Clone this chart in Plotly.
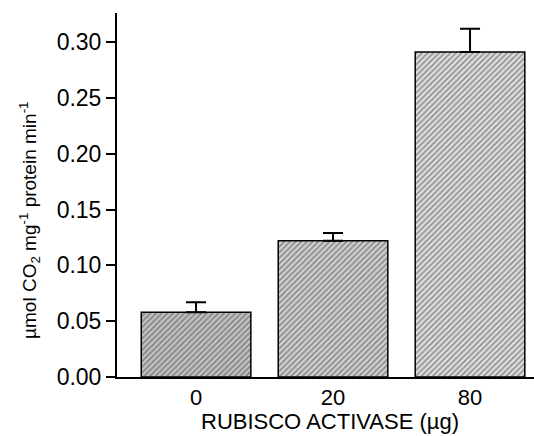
import plotly.graph_objects as go

categories = ["0", "20", "80"]
values = [0.058, 0.122, 0.291]
errors = [0.009, 0.007, 0.021]
tick_vals = [0.00, 0.05, 0.10, 0.15, 0.20, 0.25, 0.30]
tick_text = ["0.00", "0.05", "0.10", "0.15", "0.20", "0.25", "0.30"]

fig = go.Figure()
fig.add_trace(go.Bar(
    x=[0, 1, 2], y=values, width=0.8,
    marker=dict(
        color=["#c4c4c4", "#d2d2d2", "#e0e0e0"],
        line=dict(color="black", width=1.5),
        pattern=dict(shape="/", fgcolor="#404040", size=4, solidity=0.45),
    ),
    error_y=dict(type="data", symmetric=False, array=errors,
                 arrayminus=[0, 0, 0], color="black", thickness=2, width=10),
))

fig.update_layout(
    width=534, height=436,
    margin=dict(l=117, r=0, t=13, b=59),
    paper_bgcolor="white", plot_bgcolor="white",
    showlegend=False,
    font=dict(family="Liberation Sans, Arial", color="black"),
)
fig.update_xaxes(
    range=[-0.577, 2.467], tickvals=[0, 1, 2], ticktext=categories,
    showline=True, linecolor="black", linewidth=2, ticks="",
    tickfont=dict(size=22), showgrid=False, zeroline=False,
)
fig.update_yaxes(
    range=[0, 0.326], tickvals=tick_vals, ticktext=tick_text,
    showline=True, linecolor="black", linewidth=2, ticks="outside",
    ticklen=9, tickwidth=2, tickcolor="black",
    tickfont=dict(size=23), showgrid=False, zeroline=False,
)
fig.add_annotation(
    text="RUBISCO ACTIVASE (µg)",
    xref="paper", yref="paper", x=0.51, y=-0.163,
    showarrow=False, font=dict(size=22), xanchor="center", yanchor="bottom",
)
fig.add_annotation(
    text="µmol CO<sub>2</sub> mg<sup>-1</sup> protein min<sup>-1</sup>",
    xref="paper", yref="paper", x=-0.21, y=0.43, textangle=-90,
    showarrow=False, font=dict(size=19), xanchor="center", yanchor="middle",
)

fig.write_html("out.html")
